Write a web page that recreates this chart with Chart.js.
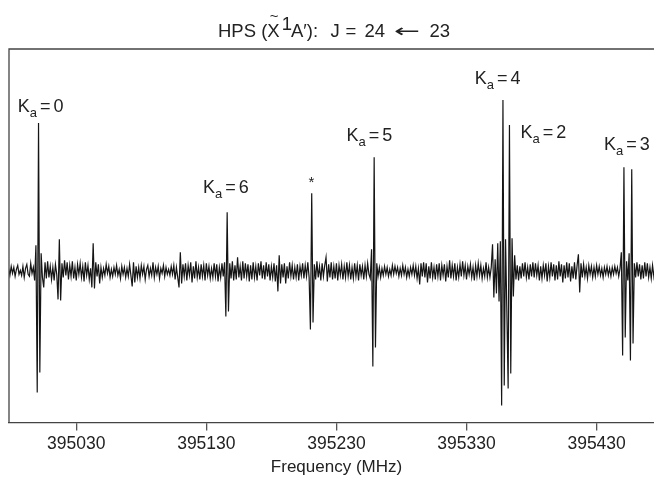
<!DOCTYPE html>
<html><head><meta charset="utf-8">
<script src="https://cdn.jsdelivr.net/npm/chart.js@4/dist/chart.umd.min.js"></script>
<style>html,body{margin:0;padding:0;background:#fff;overflow:hidden;width:654px;height:478px}#wrap{width:664px;height:478px;position:relative}</style>
</head><body><div id="wrap"><canvas id="c"></canvas></div>
<script>
// Sampling of the recorded spectrum (MHz)
const freqStart = 394978;
const freqStep = 1;
// Signal intensity (arbitrary units, baseline = 0)
const intensity = [
 3,-4,5,-2,4,-5,2,6,-3,1,
 -4,5,-6,3,7,-3,-5,8,-2,4,
 -9,26,-121,148,-101,18,-6,-16,9,-7,
 10,-6,5,-8,4,-9,7,-3,-28,32,
 -29,8,-6,11,-4,9,-8,6,-5,10,
 -7,4,-9,7,-3,8,-6,5,-10,9,
 -4,6,-8,3,-16,28,-17,9,-5,7,
 -12,4,-6,3,-4,7,-2,5,-6,2,
 -5,4,-3,6,-4,2,-7,5,-3,4,
 -6,3,-5,7,-4,-15,9,-11,5,-6,
 4,-7,6,-3,5,-8,2,6,-5,3,
 -4,9,-6,4,-3,5,-7,3,-2,6,
 -5,4,-3,2,-4,5,-3,6,-8,4,
 -6,-16,19,-12,7,-5,8,-9,6,-4,
 9,-11,5,-7,10,-6,4,-8,7,-5,
 6,-9,8,-4,5,-7,3,-6,8,-5,
 7,-10,4,-6,8,-5,9,-45,59,-40,
 8,-7,10,-9,6,-8,14,-6,5,-9,
 10,-7,8,-5,7,-10,6,-8,9,-6,
 5,-9,8,-4,10,-7,6,-8,9,-5,
 7,-9,5,-6,8,-10,6,-20,16,-12,
 7,-6,8,-12,5,-7,9,-5,6,-8,
 4,-6,7,-9,5,-4,8,-7,6,-5,
 9,-6,-58,78,-51,7,-8,10,-6,5,
 -9,8,-5,6,14,-10,7,-6,9,-8,
 5,-7,8,-9,6,-4,7,-8,5,-6,
 9,-5,6,-8,4,-7,8,-5,6,-9,
 7,-4,5,-8,6,-5,8,-3,-7,22,
 -95,114,-76,8,-5,4,-6,3,-4,5,
 -3,4,-5,2,-4,6,-3,5,-2,4,
 -5,3,-4,6,-3,4,-6,2,-5,4,
 -3,6,-4,5,-7,3,-13,8,-5,9,
 -6,8,-11,5,-7,9,-6,4,-8,7,
 -5,8,-9,6,-4,7,-10,5,-6,11,
 -7,6,-5,8,-9,4,-6,7,-5,10,
 -4,6,-8,5,-3,7,-6,4,-9,6,
 -5,8,-4,6,-7,3,-5,9,-6,4,
 -6,4,27,-26,12,-22,28,-30,30,-134,
 171,-114,32,-40,-117,146,-102,33,-25,16,
 -8,6,-9,5,-7,8,-5,9,-6,4,
 -8,7,-5,9,-6,8,-4,6,-9,5,
 -7,6,-4,8,-10,5,-6,9,-5,7,
 -9,6,-8,10,-5,7,-11,6,-7,9,
 -6,8,-10,5,-7,9,-8,6,17,-21,
 8,-6,7,-5,4,-7,6,-3,5,-6,
 4,-5,6,-3,5,-4,3,-6,4,-3,
 5,-4,3,-5,4,-3,5,-2,4,-5,
 3,19,-84,104,-66,10,-9,18,-89,102,
 -72,8,-6,9,-5,7,-8,6,-7,9,
 -5,8,-6,4,-7,6,-5,4,-6,5,
 -4,7,-5,3,-6,4
];
const tickValues = [395030, 395130, 395230, 395330, 395430];
// K_a assignments: label text and anchor (MHz, intensity units)
const kaNames = ['0', '6', '5', '4', '2', '3'];
const kaLabelFreq = [394985.1, 395127.4, 395237.7, 395336.4, 395371.5, 395435.6];
const kaLabelLevel = [159, 78, 130, 187, 133, 121];
const starFreq = [395210.8];
const starLevel = [84];

const FONT = "'Liberation Sans', Arial, Helvetica, sans-serif";
const INK = '#222';

const points = intensity.map((v, i) => ({x: freqStart + i * freqStep, y: v}));

const framePlugin = {
  id: 'frame',
  afterDraw(chart) {
    const {ctx, chartArea: a} = chart;
    ctx.save();
    ctx.strokeStyle = '#444';
    ctx.lineWidth = 1.3;
    ctx.beginPath();
    ctx.moveTo(a.left, a.bottom);
    ctx.lineTo(a.left, a.top);
    ctx.lineTo(a.right + 20, a.top);
    ctx.stroke();
    ctx.restore();
  }
};

function drawKa(ctx, x, y, digit) {
  ctx.font = '18px ' + FONT;
  ctx.fillText('K', x, y);
  x += ctx.measureText('K').width;
  ctx.font = '13px ' + FONT;
  ctx.fillText('a', x, y + 5);
  x += ctx.measureText('a').width + 3;
  ctx.font = '18px ' + FONT;
  ctx.fillText('=', x, y);
  x += ctx.measureText('=').width + 3;
  ctx.fillText(digit, x, y);
}

const textPlugin = {
  id: 'texts',
  afterDraw(chart) {
    const {ctx, scales: {x: xs, y: ys}} = chart;
    ctx.save();
    ctx.fillStyle = INK;
    ctx.textBaseline = 'alphabetic';
    ctx.textAlign = 'left';
    kaNames.forEach((n, i) => {
      drawKa(ctx, xs.getPixelForValue(kaLabelFreq[i]), ys.getPixelForValue(kaLabelLevel[i]), n);
    });
    ctx.font = '15px ' + FONT;
    ctx.textAlign = 'center';
    starFreq.forEach((f, i) => ctx.fillText('*', xs.getPixelForValue(f), ys.getPixelForValue(starLevel[i])));
    // Title: HPS (X~ 1 A'): J = 24 <- 23
    ctx.textAlign = 'left';
    const base = 36.7;
    ctx.font = '18.5px ' + FONT;
    let x = 218;
    ctx.fillText('HPS (', x, base);
    x += ctx.measureText('HPS (').width;
    const xw = ctx.measureText('X').width;
    ctx.fillText('X', x, base);
    ctx.save();
    ctx.font = '15px ' + FONT;
    ctx.textAlign = 'center';
    ctx.fillText('~', x + xw / 2 + 0.5, base - 15.5);
    ctx.restore();
    x += xw + 2;
    ctx.fillText('1', x, base - 6.5);
    x += ctx.measureText('1').width - 1;
    ctx.fillText('A\u2032):', x, base);
    ctx.fillText('J', 330.5, base);
    ctx.fillText('=', 345.5, base);
    ctx.fillText('24', 364.5, base);
    ctx.save();
    ctx.font = "18px 'DejaVu Sans', sans-serif";
    const aw = ctx.measureText('\u2190').width;
    ctx.translate(394, base);
    ctx.scale(26 / aw, 1);
    ctx.fillText('\u2190', 0, 0);
    ctx.restore();
    ctx.fillText('23', 429.5, base);
    ctx.restore();
  }
};

new Chart(document.getElementById('c'), {
  type: 'line',
  data: {datasets: [{data: points, borderColor: '#151515', borderWidth: 1.2, pointRadius: 0, tension: 0, fill: false}]},
  options: {
    responsive: true, maintainAspectRatio: false, animation: false, devicePixelRatio: 1,
    layout: {padding: {left: 9, top: 49, right: 0, bottom: 0}},
    plugins: {legend: {display: false}, tooltip: {enabled: false}, title: {display: false}},
    scales: {
      x: {
        type: 'linear', min: 394978.3, max: 395481.8,
        afterBuildTicks: s => { s.ticks = tickValues.map(v => ({value: v})); },
        ticks: {callback: v => String(v), font: {family: FONT, size: 17.5}, color: INK, padding: 3, maxRotation: 0, autoSkip: false},
        grid: {display: true, drawOnChartArea: false, drawTicks: true, tickLength: 8, color: '#555', lineWidth: 1.3},
        border: {display: true, color: '#444', width: 1.3},
        title: {display: true, text: 'Frequency (MHz)', font: {family: FONT, size: 17}, color: INK, padding: {top: 0, bottom: 0}}
      },
      y: {display: false, min: -151, max: 222}
    }
  },
  plugins: [framePlugin, textPlugin]
});
</script></body></html>
